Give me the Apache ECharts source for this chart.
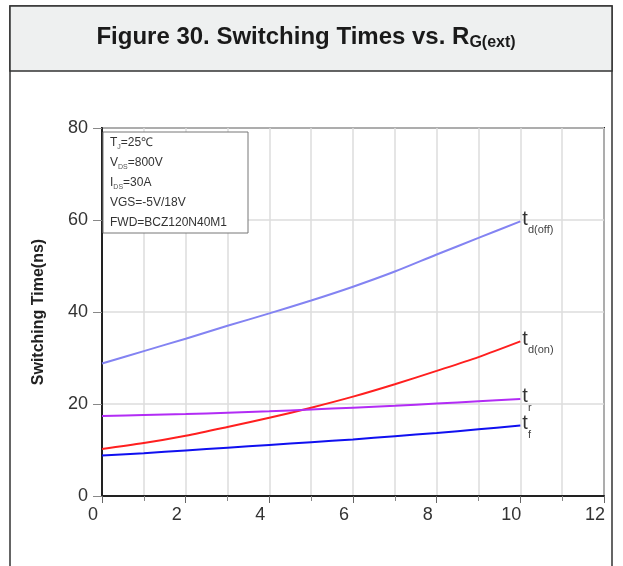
<!DOCTYPE html>
<html><head><meta charset="utf-8">
<script src="https://cdn.jsdelivr.net/npm/echarts@6/dist/echarts.min.js"></script>
<style>html,body{margin:0;padding:0;background:#fff}#c{width:623px;height:566px}</style>
</head><body><div id="c"></div>
<script>
const rgExt = [0,1,2,3,4,5,6,7,8,9,10];
const tdOff = [28.8,31.5,34.2,37.0,39.7,42.5,45.5,48.8,52.5,56.1,59.7];
const tdOn  = [10.2,11.5,13.1,15.0,17.0,19.2,21.6,24.3,27.2,30.2,33.6];
const tR    = [17.4,17.6,17.8,18.1,18.4,18.8,19.2,19.6,20.1,20.6,21.1];
const tF    = [8.8,9.3,9.9,10.5,11.1,11.7,12.3,13.0,13.7,14.5,15.3];
const seriesNames = ['d(off)','d(on)','r','f'];
const seriesColors = ['#8383f2','#ff1f1f','#b22cf5','#1010f0'];
const conditions = ['T{s|J}=25\u2103','V{s|DS}=800V','I{s|DS}=30A','VGS=-5V/18V','FWD=BCZ120N40M1'];

const chart = echarts.init(document.getElementById('c'));
const font = 'Liberation Sans, Arial, sans-serif';
function mk(name, vals, color){
  return {
    type:'line', name:name, data: rgExt.map((x,i)=>[x,vals[i]]),
    symbol:'none', smooth:0.3, lineStyle:{color:color,width:2}, color:color,
    endLabel:{show:true, formatter:'{t|t}{s|'+name+'}', distance:2, offset:[0,2],
      rich:{t:{fontSize:20,fontFamily:font,color:'#333',padding:[0,0,8,0]},
            s:{fontSize:11,fontFamily:font,color:'#444',padding:[14,0,0,0]}}}
  };
}
chart.setOption({
  animation:false,
  textStyle:{fontFamily:font},
  graphic:[
    {type:'rect', shape:{x:10,y:6,width:602,height:600}, style:{fill:'#fff',stroke:'#333',lineWidth:1.5}, z:-10},
    {type:'rect', shape:{x:10,y:6,width:602,height:65}, style:{fill:'#eef0f0',stroke:'#333',lineWidth:1.5}, z:-9},
    {type:'text', x:306, y:37, style:{text:'Figure 30. Switching Times vs. R{s|G(ext)}', align:'center', verticalAlign:'middle',
      fontSize:24, fontWeight:'bold', fontFamily:font, fill:'#1a1a1a',
      rich:{s:{fontSize:16,fontWeight:'bold',fontFamily:font,fill:'#1a1a1a',padding:[11,0,0,0]}}}, z:5},
    {type:'rect', shape:{x:103,y:132,width:145,height:101}, style:{fill:'#fff',stroke:'#777',lineWidth:1}, z:50},
    ...conditions.map((c,i)=>({type:'text', x:110, y:143+i*20, z:51,
      style:{text:c, fontSize:12, fontFamily:font, fill:'#333', verticalAlign:'middle',
        rich:{s:{fontSize:7,fontFamily:font,fill:'#555',padding:[8,0,0,0]}}}}))
  ],
  grid:{left:102,right:19,top:128,bottom:70,show:true,borderColor:'#222',borderWidth:2,backgroundColor:'transparent'},
  xAxis:{type:'value',min:0,max:12,interval:2,
    axisLine:{lineStyle:{color:'#222',width:2}},
    axisTick:{show:true,length:7,lineStyle:{color:'#666',width:1}},
    minorTick:{show:true,splitNumber:2,length:5,lineStyle:{color:'#888'}},
    splitLine:{show:true,lineStyle:{color:'#ddd',width:1.5}},
    minorSplitLine:{show:true,lineStyle:{color:'#ddd',width:1.5}},
    axisLabel:{fontSize:18,color:'#333',margin:10,padding:[0,18,0,0],showMaxLabel:true}
  },
  yAxis:{type:'value',min:0,max:80,interval:20,
    name:'Switching Time(ns)', nameLocation:'middle', nameGap:55,
    nameTextStyle:{fontSize:16,fontWeight:'bold',color:'#222'},
    axisLine:{show:true,lineStyle:{color:'#222',width:2}},
    axisTick:{show:true,length:9,lineStyle:{color:'#888',width:1}},
    splitLine:{show:true,lineStyle:{color:'#ddd',width:1.5}},
    axisLabel:{fontSize:18,color:'#333',margin:14}
  },
  series:[mk(seriesNames[0],tdOff,seriesColors[0]),mk(seriesNames[1],tdOn,seriesColors[1]),
          mk(seriesNames[2],tR,seriesColors[2]),mk(seriesNames[3],tF,seriesColors[3])]
});
</script></body></html>
